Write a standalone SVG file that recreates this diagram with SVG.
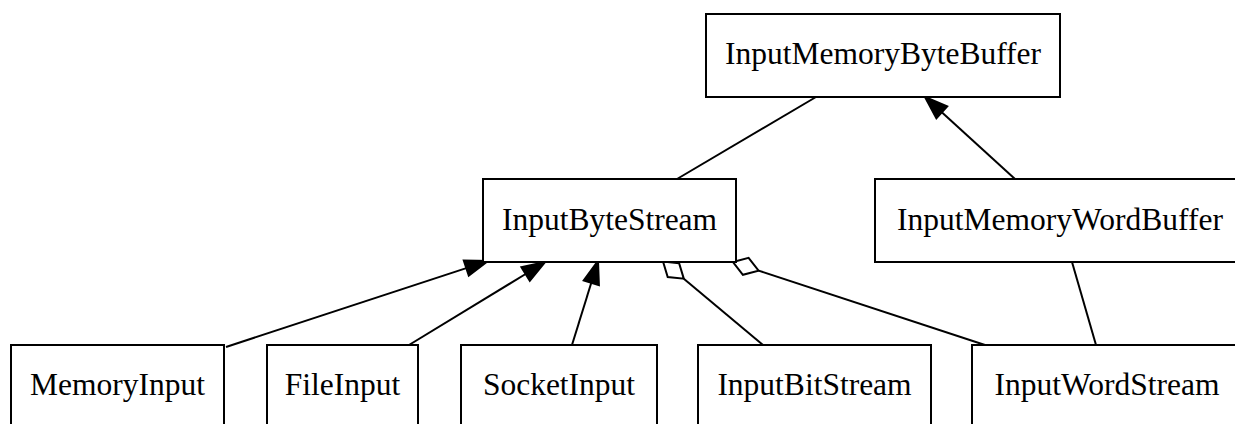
<svg xmlns="http://www.w3.org/2000/svg" width="1235" height="424" viewBox="0 0 1235 424">
<style>
.box{fill:#fff;stroke:#000;stroke-width:2}
.lbl{font-family:"Liberation Serif","Times New Roman",serif;font-size:31.5px;text-anchor:middle;fill:#000}
.e{fill:none;stroke:#000;stroke-width:2}
.ah{fill:#000;stroke:#000;stroke-width:2}
.dm{fill:#fff;stroke:#000;stroke-width:2}
</style>
<rect width="1235" height="424" fill="#fff"/>
<g id="edges">
<line class="e" x1="226" y1="347" x2="466.3" y2="268.1"/>
<polygon class="ah" points="488,261 468.8,275.7 463.8,260.5"/>
<line class="e" x1="409" y1="345" x2="525.6" y2="274"/>
<polygon class="ah" points="545,262 529.8,280.8 521.4,267.2"/>
<line class="e" x1="572" y1="345" x2="591.3" y2="282.8"/>
<polygon class="ah" points="598,261 598.9,285.2 583.7,280.4"/>
<line class="e" x1="683.8" y1="278.7" x2="763" y2="345"/>
<polygon class="dm" points="663,261.5 679.1,263.2 683.8,278.7 667.7,277"/>
<line class="e" x1="758.6" y1="270.6" x2="985" y2="345"/>
<polygon class="dm" points="733,262 748.6,257.8 758.6,270.6 742.9,274.8"/>
<line class="e" x1="816" y1="97" x2="677" y2="179"/>
<line class="e" x1="1015" y1="179" x2="941.8" y2="112.3"/>
<polygon class="ah" points="925,97 947.2,106.4 936.4,118.2"/>
<line class="e" x1="1072" y1="262" x2="1096" y2="345"/>
</g>
<g id="InputMemoryByteBuffer">
<rect class="box" x="706" y="14" width="354" height="83"/>
<text class="lbl" x="883" y="64">InputMemoryByteBuffer</text>
</g>
<g id="InputByteStream">
<rect class="box" x="483" y="179" width="253" height="83"/>
<text class="lbl" x="609.5" y="229.5">InputByteStream</text>
</g>
<g id="InputMemoryWordBuffer">
<rect class="box" x="875" y="179" width="370" height="83"/>
<text class="lbl" x="1060" y="229.5">InputMemoryWordBuffer</text>
</g>
<g id="MemoryInput">
<rect class="box" x="11" y="345" width="213" height="83"/>
<text class="lbl" x="117.5" y="395">MemoryInput</text>
</g>
<g id="FileInput">
<rect class="box" x="267" y="345" width="151" height="83"/>
<text class="lbl" x="342.5" y="395">FileInput</text>
</g>
<g id="SocketInput">
<rect class="box" x="461" y="345" width="196" height="83"/>
<text class="lbl" x="559" y="395">SocketInput</text>
</g>
<g id="InputBitStream">
<rect class="box" x="698" y="345" width="233" height="83"/>
<text class="lbl" x="814.5" y="395">InputBitStream</text>
</g>
<g id="InputWordStream">
<rect class="box" x="972" y="345" width="270" height="83"/>
<text class="lbl" x="1107" y="395">InputWordStream</text>
</g>
</svg>
